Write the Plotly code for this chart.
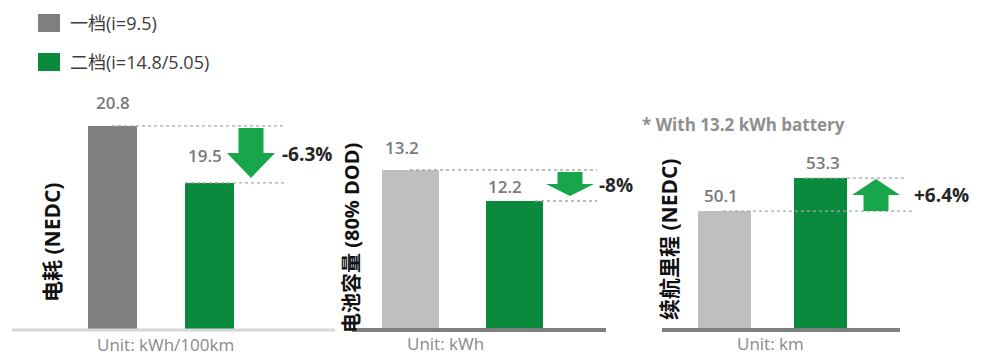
import plotly.graph_objects as go

# ---------------- data ----------------
series_names = ["一档(i=9.5)", "二档(i=14.8/5.05)"]
metric_titles = ["电耗 (NEDC)", "电池容量 (80% DOD)", "续航里程 (NEDC)"]
unit_labels = ["Unit: kWh/100km", "Unit: kWh", "Unit: km"]
gear1_values = [20.8, 13.2, 50.1]
gear2_values = [19.5, 12.2, 53.3]
change_labels = ["-6.3%", "-8%", "+6.4%"]
note_text = "* With 13.2 kWh battery"

# ---------------- styling / layout constants ----------------
W, H = 987, 355
BASE_PX, TOP_PX = 329, 90
GREEN = "#0a8a3c"
ARROW_GREEN = "#17a74a"
LEGEND_GRAY = "#7f7f7f"
FONT = "Open Sans, Noto Sans CJK SC, sans-serif"

panels = [
    dict(dom=(10, 340), c0=112.5, step=97, barw=49, yr=(16.17, 21.62), gray="#7f7f7f",
         axis=(12, 335), axis_color="#d6d6d6", axis_w=3,
         arrow_px=251, pct_px=280, lab_dx=(0, -5), lab_dy=(23, 27),
         guide_hi=(112, 285), guide_lo=(185, 285),
         title_px=(52, 243), title_size=21, unit_px=(165, 344)),
    dict(dom=(350, 645), c0=410.5, step=104, barw=57, yr=(8.07, 15.78), gray="#bfbfbf",
         axis=(352, 606), axis_color="#7f7f7f", axis_w=4,
         arrow_px=570, pct_px=597, lab_dx=(-9, -10), lab_dy=(22, 14),
         guide_hi=(410, 597), guide_lo=(535, 597),
         title_px=(351, 238), title_size=20, unit_px=(445, 343)),
    dict(dom=(655, 930), c0=724.5, step=96, barw=53, yr=(38.66, 61.84), gray="#bfbfbf",
         axis=(662, 900), axis_color="#7f7f7f", axis_w=4,
         arrow_px=876, pct_px=912, lab_dx=(-4, 2), lab_dy=(16, 16),
         guide_hi=(805, 907), guide_lo=(723, 913),
         title_px=(669, 240), title_size=21, unit_px=(770, 343)),
]

fig = go.Figure()
shapes = []
annotations = []

ydom = [(H - BASE_PX) / H, (H - TOP_PX) / H]

for i, p in enumerate(panels):
    k = "" if i == 0 else str(i + 1)
    xa, ya = "x" + k, "y" + k
    c0, step = p["c0"], p["step"]
    r0 = (p["dom"][0] - c0) / step
    r1 = (p["dom"][1] - c0) / step
    ppu = (BASE_PX - TOP_PX) / (p["yr"][1] - p["yr"][0])  # pixels per unit

    def xd(px, c0=c0, step=step):
        return (px - c0) / step

    v1, v2 = gear1_values[i], gear2_values[i]

    fig.add_trace(go.Bar(x=[0], y=[v1], width=p["barw"] / step, marker_color=p["gray"],
                         marker_line_width=0, name=series_names[0], showlegend=False,
                         xaxis=xa, yaxis=ya, hoverinfo="skip"))
    fig.add_trace(go.Bar(x=[1], y=[v2], width=p["barw"] / step, marker_color=GREEN,
                         marker_line_width=0, name=series_names[1], showlegend=False,
                         xaxis=xa, yaxis=ya, hoverinfo="skip"))

    axkw = dict(showgrid=False, zeroline=False, showticklabels=False, showline=False, ticks="")
    fig.update_layout(**{
        ("xaxis" + k): dict(domain=[p["dom"][0] / W, p["dom"][1] / W], range=[r0, r1],
                            anchor=ya, fixedrange=True, **axkw),
        ("yaxis" + k): dict(domain=ydom, range=list(p["yr"]), anchor=xa, fixedrange=True, **axkw),
    })

    # baseline
    shapes.append(dict(type="line", xref=xa, yref="paper",
                       x0=xd(p["axis"][0]), x1=xd(p["axis"][1]),
                       y0=(H - BASE_PX - 1) / H, y1=(H - BASE_PX - 1) / H,
                       line=dict(color=p["axis_color"], width=p["axis_w"]), layer="above"))

    # dashed guide lines at the two values
    for val, rng in [(v1, p["guide_hi"] if v1 >= v2 else p["guide_lo"]),
                     (v2, p["guide_lo"] if v1 >= v2 else p["guide_hi"])]:
        shapes.append(dict(type="line", xref=xa, yref=ya, x0=xd(rng[0]), x1=xd(rng[1]),
                           y0=val, y1=val,
                           line=dict(color="#a8a8a8", width=1.3, dash="3px,3px"), layer="above"))

    # arrow from v1 to v2
    down = v2 < v1
    start = v1 + (-2 / ppu if down else 0.0)
    end = v2 + (5 / ppu if down else -1 / ppu)
    head_base = start + (end - start) * 0.5
    xc = xd(p["arrow_px"])
    hw = 24 / step
    sw = 12.5 / step
    path = (f"M{xc - sw},{start} L{xc + sw},{start} L{xc + sw},{head_base} "
            f"L{xc + hw},{head_base} L{xc},{end} L{xc - hw},{head_base} L{xc - sw},{head_base} Z")
    shapes.append(dict(type="path", xref=xa, yref=ya, path=path,
                       fillcolor=ARROW_GREEN, line=dict(width=0), layer="above"))

    # percent change label
    annotations.append(dict(xref=xa, yref=ya, x=xd(p["pct_px"]), y=(v1 + v2) / 2,
                            text=change_labels[i], showarrow=False, xanchor="left", yanchor="middle",
                            font=dict(family=FONT, size=19, color="#262626", weight="bold")))

    # value labels
    for j, val in enumerate([v1, v2]):
        annotations.append(dict(xref=xa, yref=ya, x=j, y=val, text=f"{val:.1f}", showarrow=False,
                                xanchor="center", yanchor="middle",
                                xshift=p["lab_dx"][j], yshift=p["lab_dy"][j],
                                font=dict(family=FONT, size=17, color="#7a7a7a", weight=600)))

    # rotated metric title
    annotations.append(dict(xref="paper", yref="paper", x=p["title_px"][0] / W,
                            y=(H - p["title_px"][1]) / H, text=metric_titles[i], textangle=-90,
                            showarrow=False, xanchor="center", yanchor="middle",
                            font=dict(family=FONT, size=p["title_size"], color="#111111", weight="bold")))

    # unit label
    annotations.append(dict(xref="paper", yref="paper", x=p["unit_px"][0] / W,
                            y=(H - p["unit_px"][1]) / H, text=unit_labels[i],
                            showarrow=False, xanchor="center", yanchor="middle",
                            font=dict(family=FONT, size=17, color="#8a8a8a")))

# note
annotations.append(dict(xref="paper", yref="paper", x=640 / W, y=(H - 125) / H, text=note_text,
                        showarrow=False, xanchor="left", yanchor="middle",
                        font=dict(family=FONT, size=17, color="#8f8f8f", weight="bold")))

# custom legend
legend_colors = [LEGEND_GRAY, GREEN]
legend_rows = [23, 62]
for name, col, cy in zip(series_names, legend_colors, legend_rows):
    shapes.append(dict(type="rect", xref="paper", yref="paper",
                       x0=38 / W, x1=60 / W, y0=(H - cy - 9) / H, y1=(H - cy + 9) / H,
                       fillcolor=col, line=dict(width=0)))
    annotations.append(dict(xref="paper", yref="paper", x=68 / W, y=(H - cy) / H, text=name,
                            showarrow=False, xanchor="left", yanchor="middle",
                            font=dict(family=FONT, size=18, color="#3c3c3c")))

fig.update_layout(width=W, height=H, margin=dict(l=0, r=0, t=0, b=0),
                  paper_bgcolor="white", plot_bgcolor="white",
                  shapes=shapes, annotations=annotations, showlegend=False, barmode="overlay")

fig.write_html("out.html", config={"displayModeBar": False})
